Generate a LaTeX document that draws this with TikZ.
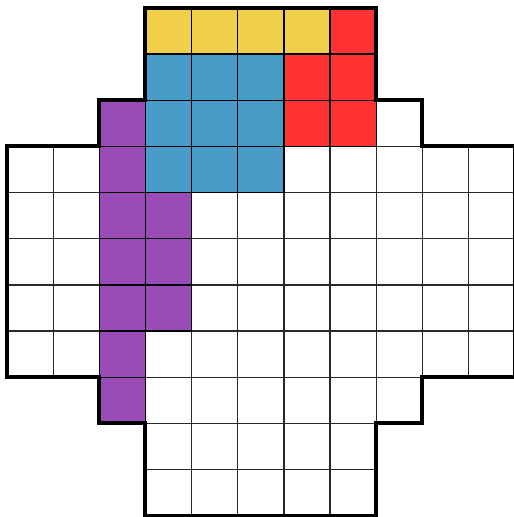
\documentclass[tikz,border=0pt]{standalone}
\definecolor{cyellow}{RGB}{240,208,72}
\definecolor{cblue}{RGB}{74,156,200}
\definecolor{cred}{RGB}{255,51,51}
\definecolor{cpurple}{RGB}{153,76,183}
\definecolor{gridc}{RGB}{40,40,40}
\tikzset{
  cell/.style={draw=gridc, line width=0.8pt},
  outline/.style={draw=black, line width=2.5pt, line join=miter},
}
\begin{document}
\begin{tikzpicture}[x=1cm,y=-1cm]
\useasboundingbox (-0.152,-0.173) rectangle (10.986,11.03);
% white cells
\foreach \r/\a/\b in {0/3/7,1/3/7,2/2/8,3/0/10,4/0/10,5/0/10,6/0/10,7/0/10,8/2/8,9/3/7,10/3/7}{
  \foreach \c in {\a,...,\b}{
    \draw[cell, fill=white] (\c,\r) rectangle ++(1,1);
  }
}
% coloured cells
\foreach \c/\r in {3/0,4/0,5/0,6/0}{\draw[cell, draw=black, fill=cyellow] (\c,\r) rectangle ++(1,1);}
\foreach \c/\r in {7/0,6/1,7/1,6/2,7/2}{\draw[cell, draw=black, fill=cred] (\c,\r) rectangle ++(1,1);}
\foreach \c/\r in {3/1,4/1,5/1,3/2,4/2,5/2,3/3,4/3,5/3}{\draw[cell, draw=black, fill=cblue] (\c,\r) rectangle ++(1,1);}
\foreach \c/\r in {2/2,2/3,2/4,3/4,2/5,3/5,2/6,3/6,2/7,2/8}{\draw[cell, draw=black, fill=cpurple] (\c,\r) rectangle ++(1,1);}
% outline
\draw[outline] (3,0) -- (8,0) -- (8,2) -- (9,2) -- (9,3) -- (11,3) -- (11,8) -- (9,8) -- (9,9) -- (8,9) -- (8,11) -- (3,11) -- (3,9) -- (2,9) -- (2,8) -- (0,8) -- (0,3) -- (2,3) -- (2,2) -- (3,2) -- cycle;
\end{tikzpicture}
\end{document}
